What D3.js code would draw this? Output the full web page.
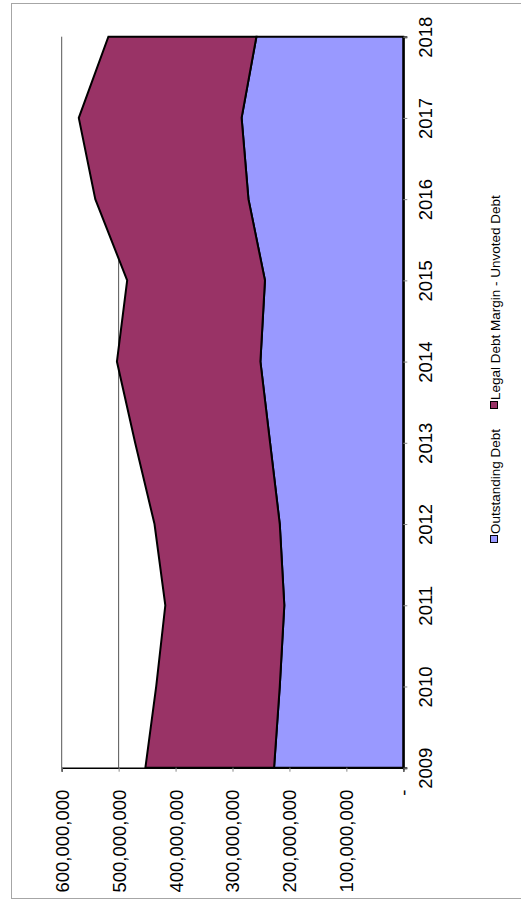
<!DOCTYPE html>
<html>
<head>
<meta charset="utf-8">
<script src="https://cdn.jsdelivr.net/npm/d3@7"></script>
<style>
  body { margin: 0; background: #fff; }
  svg { display: block; font-family: "Liberation Sans", Arial, sans-serif; }
</style>
</head>
<body>
<div id="chart"></div>
<script>
const years = [2009, 2010, 2011, 2012, 2013, 2014, 2015, 2016, 2017, 2018];
const outstandingDebt = [227e6, 217e6, 209e6, 217e6, 234e6, 251e6, 243e6, 272e6, 284e6, 258e6];
const legalDebtMargin = [226e6, 217e6, 209e6, 220e6, 237e6, 252e6, 242e6, 269e6, 286e6, 260e6];
const valueTicks = [0, 100e6, 200e6, 300e6, 400e6, 500e6, 600e6];
const seriesNames = ['Outstanding Debt', 'Legal Debt Margin - Unvoted Debt'];
const seriesColors = ['#9999ff', '#993366'];

const width = 521, height = 900;
// plot box (chart is turned on its side: values run right-to-left, years bottom-to-top)
const plot = { left: 61.7, right: 403.3, top: 36.7, bottom: 767.7 };

const svg = d3.select('#chart').append('svg')
  .attr('width', width)
  .attr('height', height);

// outer frame
svg.append('rect')
  .attr('x', 11.5).attr('y', 3.5)
  .attr('width', 520).attr('height', 895)
  .attr('fill', 'none')
  .attr('stroke', '#a6a6a6')
  .attr('stroke-width', 1);

const x = d3.scaleLinear().domain([0, 600e6]).range([plot.right, plot.left]);
const y = d3.scalePoint().domain(years).range([plot.bottom, plot.top]);

// gridlines
svg.append('g')
  .selectAll('line')
  .data(valueTicks.filter(d => d > 0))
  .join('line')
  .attr('x1', d => x(d)).attr('x2', d => x(d))
  .attr('y1', plot.top).attr('y2', plot.bottom)
  .attr('stroke', '#555')
  .attr('stroke-width', 1);

const table = years.map((yr, i) => ({
  year: yr,
  [seriesNames[0]]: outstandingDebt[i],
  [seriesNames[1]]: legalDebtMargin[i]
}));
const stacked = d3.stack().keys(seriesNames)(table);

const area = d3.area()
  .y(d => y(d.data.year))
  .x0(d => x(d[0]))
  .x1(d => x(d[1]));

svg.append('g')
  .selectAll('path')
  .data(stacked)
  .join('path')
  .attr('d', area)
  .attr('fill', (d, i) => seriesColors[i])
  .attr('stroke', '#000')
  .attr('stroke-width', 2)
  .attr('stroke-linejoin', 'miter');

// value axis (along the bottom)
const fmt = d3.format(',');
const xAxis = svg.append('g')
  .attr('transform', `translate(0,${plot.bottom})`)
  .call(d3.axisBottom(x).tickValues(valueTicks).tickSize(4)
    .tickFormat(d => d === 0 ? '-' : fmt(d)));
xAxis.select('.domain').attr('stroke', '#000').attr('stroke-width', 1.5);
xAxis.selectAll('.tick line').attr('stroke', '#888');
xAxis.selectAll('.tick text')
  .attr('font-size', 18.5)
  .attr('fill', '#000')
  .attr('text-anchor', 'end')
  .attr('transform', 'translate(0,22) rotate(-90)')
  .attr('x', 0).attr('y', 0).attr('dy', '0.35em');

// year axis (along the right)
const yAxis = svg.append('g')
  .attr('transform', `translate(${plot.right},0)`)
  .call(d3.axisRight(y).tickSize(4));
yAxis.select('.domain').attr('stroke', '#000').attr('stroke-width', 2);
yAxis.selectAll('.tick line').attr('stroke', '#888');
yAxis.selectAll('.tick text')
  .attr('font-size', 18.5)
  .attr('fill', '#000')
  .attr('text-anchor', 'middle')
  .attr('transform', 'translate(28.5,0) rotate(-90)')
  .attr('x', 0).attr('y', 0).attr('dy', 0);

// legend
const legendStarts = [542.5, 408.5];
const legend = svg.append('g')
  .selectAll('g')
  .data(seriesNames)
  .join('g')
  .attr('transform', (d, i) => `translate(490,${legendStarts[i]}) rotate(-90)`);
legend.append('rect')
  .attr('x', 0).attr('y', 0.5)
  .attr('width', 7).attr('height', 7)
  .attr('fill', (d, i) => seriesColors[i])
  .attr('stroke', '#000')
  .attr('stroke-width', 1);
legend.append('text')
  .attr('x', 8.5).attr('y', 9.5)
  .attr('font-size', 13.5)
  .attr('fill', '#000')
  .text(d => d);
</script>
</body>
</html>
